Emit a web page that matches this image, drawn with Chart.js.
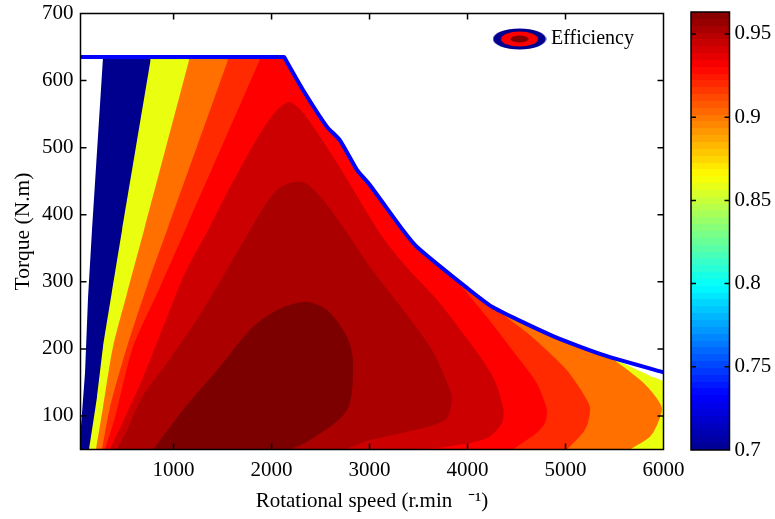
<!DOCTYPE html>
<html><head><meta charset="utf-8">
<style>html,body{margin:0;padding:0;background:#fff}canvas{position:absolute;left:0;top:0}</style>
<script src="https://cdn.jsdelivr.net/npm/chart.js@4"></script>
</head><body>
<canvas id="map" width="775" height="519"></canvas>
<canvas id="bar" width="775" height="519"></canvas>
<script>
const speedTicks=[1000,2000,3000,4000,5000,6000];
const torqueTicks=[100,200,300,400,500,600,700];
const efficiencyTicks=[0.7,0.75,0.8,0.85,0.9,0.95];
const efficiencyRange=[0.7,0.9632];

const envelopeSpeed=[50,2120,2130,2140,2321,2566,2698,2872,3005,3341,3484,3994,4260,4872,5382,6000];
const envelopeTorque=[635,635,635,632,586,531,511,467,444,377,352,291,262,219,191,165];

const navySpeed=[50,50,96,127,167,280,800,240];
const navyTorque=[50,75,164,277,377,635,635,50];

const yellowLeftSpeed=[137,218,280,368,474,762,770];
const yellowLeftTorque=[50,128,203,283,377,628,635];
const yellowRightSpeed=[5556,5893,6000,6000];
const yellowRightTorque=[181,158,151,50];

const orangeLeftSpeed=[208,280,382,525,698,1154,1167];
const orangeLeftTorque=[50,113,203,283,377,628,635];
const orangeRightSpeed=[5454,5760,5893,5984,5944,5862,5658];
const orangeRightTorque=[188,154,134,112,90,69,50];

const scarletLeftSpeed=[269,351,525,739,933,1549,1566];
const scarletLeftTorque=[50,113,203,298,377,628,635];
const scarletRightSpeed=[4260,4607,4808,5015,5178,5250,5229,5178,5015];
const scarletRightTorque=[262,224,198,168,134,113,90,75,50];

const redLeftSpeed=[300,402,586,861,1117,1871,1892];
const redLeftTorque=[50,98,203,292,377,628,635];
const redRightSpeed=[3821,4199,4536,4706,4811,4791,4706,4464];
const redRightTorque=[312,247,183,149,109,90,75,50];

const crimsonSpeed=[351,504,678,933,1117,1351,1576,1953,2168,2321,2668,3086,3341,3689,4025,4260,4362,4352,4199,3790,3500];
const crimsonTorque=[50,98,154,247,313,377,441,537,568,552,477,377,328,273,209,158,113,90,67,54,50];

const darkSpeed=[422,525,678,933,1300,1780,2055,2310,2525,2750,3005,3617,3821,3841,3770,3341,3005,2750];
const darkTorque=[50,79,128,179,258,377,437,449,422,377,322,203,139,124,94,75,64,50];

const peakSpeed=[790,1096,1443,1811,2117,2362,2566,2770,2831,2770,2392,2188];
const peakTorque=[50,109,168,233,262,270,258,218,179,109,64,50];

const jetStops=[[0,'#000090'],[0.125,'#0000ff'],[0.375,'#00ffff'],[0.625,'#ffff00'],[0.875,'#ff0000'],[1,'#800000']];

const FONT='"Liberation Serif","Times New Roman",serif';
const pts=(s,t)=>s.map((v,i)=>({x:v,y:t[i]}));
function band(ls,lt,rs,rt){
  const mid=[];
  envelopeSpeed.forEach((v,i)=>{if(v>ls[ls.length-1]&&v<rs[0])mid.push({x:v,y:envelopeTorque[i]});});
  return pts(ls,lt).concat(mid,pts(rs,rt));
}
const layer=(data,color,tension)=>({label:'contour',data,showLine:true,fill:'shape',backgroundColor:color,borderColor:'transparent',borderWidth:0,pointRadius:0,tension:tension||0});

function inwardTicks(xs,ys,len,lw){
  return {id:'frame',afterDatasetsDraw(chart){
    const a=chart.chartArea,c=chart.ctx;
    c.save();c.strokeStyle='#000';c.lineWidth=lw;c.beginPath();
    if(xs){const sx=chart.scales.x;xs.forEach(v=>{const p=sx.getPixelForValue(v);c.moveTo(p,a.top);c.lineTo(p,a.top+len);c.moveTo(p,a.bottom);c.lineTo(p,a.bottom-len);});}
    const sy=chart.scales.y;ys.forEach(v=>{const p=sy.getPixelForValue(v);c.moveTo(a.left,p);c.lineTo(a.left+len,p);c.moveTo(a.right,p);c.lineTo(a.right-len,p);});
    c.rect(a.left,a.top,a.right-a.left,a.bottom-a.top);c.stroke();c.restore();
  }};
}

const icon=document.createElement('canvas');icon.width=54;icon.height=22;
(function(){const c=icon.getContext('2d');
  [['#00008f',26.5,10.5],['#ff0000',18.5,7.5],['#800000',9,3.5]].forEach(e=>{c.fillStyle=e[0];c.beginPath();c.ellipse(27,11,e[1],e[2],0,0,Math.PI*2);c.fill();});
})();

new Chart(document.getElementById('map'),{
  type:'scatter',
  data:{datasets:[
    {label:'Efficiency',data:pts(envelopeSpeed,envelopeTorque),showLine:true,fill:false,borderColor:'#0000ff',borderWidth:4,pointRadius:0,tension:0.2},
    layer(pts(peakSpeed,peakTorque),'#7c0000',0.3),
    layer(pts(darkSpeed,darkTorque),'#aa0000',0.3),
    layer(pts(crimsonSpeed,crimsonTorque),'#cc0000',0.3),
    layer(band(redLeftSpeed,redLeftTorque,redRightSpeed,redRightTorque),'#ff0000',0.25),
    layer(band(scarletLeftSpeed,scarletLeftTorque,scarletRightSpeed,scarletRightTorque),'#ff2a00',0.25),
    layer(band(orangeLeftSpeed,orangeLeftTorque,orangeRightSpeed,orangeRightTorque),'#ff7000',0.25),
    layer(band(yellowLeftSpeed,yellowLeftTorque,yellowRightSpeed,yellowRightTorque),'#eaff0f',0.15),
    layer(pts(navySpeed,navyTorque),'#00008f')
  ]},
  options:{responsive:false,animation:false,
    layout:{autoPadding:false,padding:{top:13.5,right:111.5,bottom:0,left:0}},
    plugins:{tooltip:{enabled:false},
      legend:{position:'chartArea',align:'start',labels:{color:'#000',font:{family:FONT,size:20},usePointStyle:true,pointStyleWidth:43,padding:5,
        generateLabels:()=>[{text:'Efficiency',pointStyle:icon,fontColor:'#000',lineWidth:0,strokeStyle:'transparent',fillStyle:'transparent',datasetIndex:0}]}}},
    scales:{
      x:{type:'linear',min:50,max:6000,grid:{display:false,drawTicks:false},border:{display:false},
        afterFit(s){s.height=69.5;s.paddingLeft=0;s.paddingRight=0;},
        afterBuildTicks(s){s.ticks=speedTicks.map(v=>({value:v}));},
        ticks:{color:'#000',font:{family:FONT,size:21},padding:8,maxRotation:0,autoSkip:false,callback:v=>String(v)},
        title:{display:true,text:'Rotational speed (r.min   ⁻¹)',color:'#000',font:{family:FONT,size:21},padding:{top:0,bottom:5}}},
      y:{type:'linear',min:50,max:700,grid:{display:false,drawTicks:false},border:{display:false},
        afterFit(s){s.width=80.5;s.paddingTop=0;s.paddingBottom=0;},
        afterBuildTicks(s){s.ticks=torqueTicks.map(v=>({value:v}));},
        ticks:{color:'#000',font:{family:FONT,size:21},padding:7,autoSkip:false,callback:v=>String(v)},
        title:{display:true,text:'Torque (N.m)',color:'#000',font:{family:FONT,size:21.5},padding:{top:10,bottom:0}}}
    }
  },
  plugins:[inwardTicks(speedTicks,torqueTicks,6,1.5),{id:'legendPlace',afterLayout(chart){const l=chart.legend;l.left=493;l.right=660;l.width=167;l.top=24;l.bottom=60;l.height=36;}}]
});

function bandedJet(ctx,area){
  const g=ctx.createLinearGradient(0,area.bottom,0,area.top);
  const rgb=h=>[1,3,5].map(i=>parseInt(h.substr(i,2),16));
  const at=f=>{let i=0;while(i<jetStops.length-2&&f>jetStops[i+1][0])i++;
    const a=jetStops[i],b=jetStops[i+1],u=(f-a[0])/(b[0]-a[0]),ca=rgb(a[1]),cb=rgb(b[1]);
    return 'rgb('+ca.map((v,k)=>Math.round(v+(cb[k]-v)*u)).join(',')+')';};
  const n=64;
  for(let i=0;i<n;i++){const col=at((i+0.5)/n);g.addColorStop(i/n,col);g.addColorStop((i+1)/n,col);}
  return g;
}

new Chart(document.getElementById('bar'),{
  type:'bar',
  data:{labels:['Efficiency'],datasets:[{label:'Efficiency scale',data:[efficiencyRange],barPercentage:1,categoryPercentage:1,borderWidth:0,
    backgroundColor(c){const a=c.chart.chartArea;return a?bandedJet(c.chart.ctx,a):'#000';}}]},
  options:{responsive:false,animation:false,
    layout:{autoPadding:false,padding:{top:12,left:691,right:0,bottom:69}},
    plugins:{legend:{display:false},tooltip:{enabled:false}},
    scales:{
      x:{display:false},
      y:{type:'linear',position:'right',min:efficiencyRange[0],max:efficiencyRange[1],grid:{display:false,drawTicks:false},border:{display:false},
        afterFit(s){s.width=45.5;s.paddingTop=0;s.paddingBottom=0;},
        afterBuildTicks(s){s.ticks=efficiencyTicks.map(v=>({value:v}));},
        ticks:{color:'#000',font:{family:FONT,size:21},padding:5,autoSkip:false,callback:v=>String(v)}}
    }
  },
  plugins:[inwardTicks(null,efficiencyTicks,5,1.5)]
});
</script>
</body></html>
